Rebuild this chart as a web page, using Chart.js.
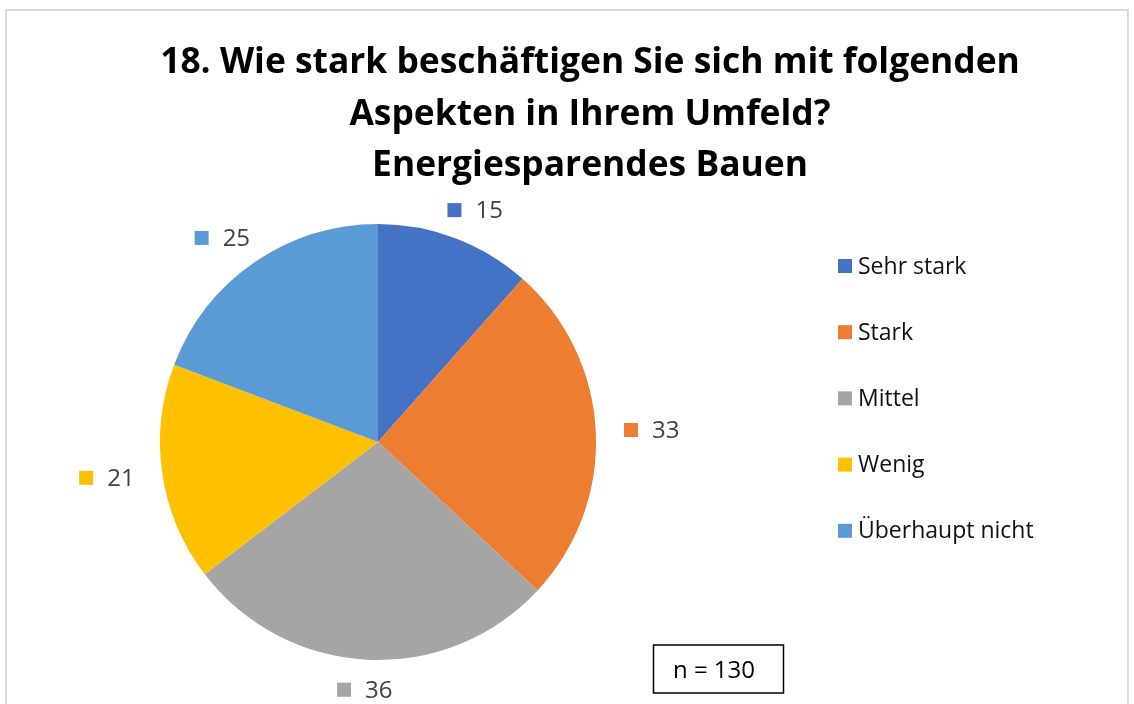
<!DOCTYPE html>
<html>
<head>
<meta charset="utf-8">
<script src="https://cdn.jsdelivr.net/npm/chart.js@4/dist/chart.umd.min.js"></script>
<style>
  body { margin: 0; background: #fff; }
  canvas { display: block; }
</style>
</head>
<body>
<canvas id="chart" width="1134" height="704"></canvas>
<script>
var kategorien = ["Sehr stark", "Stark", "Mittel", "Wenig", "Überhaupt nicht"];
var werte = [15, 33, 36, 21, 25];
var farben = ["#4472C4", "#ED7D31", "#A5A5A5", "#FFC000", "#5B9BD5"];
var titelZeilen = ["18. Wie stark beschäftigen Sie sich mit folgenden", "Aspekten in Ihrem Umfeld?", "Energiesparendes Bauen"];
var stichprobe = "n = 130";

var schrift = "'Open Sans', 'Liberation Sans', sans-serif";

// alles was nicht Torte ist, wird hier gezeichnet
var extras = {
  id: "extras",
  afterDraw: function(chart) {
    var ctx = chart.ctx;
    ctx.save();

    // Rahmen
    ctx.strokeStyle = "#d9d9d9";
    ctx.lineWidth = 2;
    ctx.strokeRect(6, 10, 1122, 720);

    // Titel, Schriftgröße an Breite der ersten Zeile angepasst
    var groesse = 40;
    ctx.font = "bold " + groesse + "px " + schrift;
    var breite = ctx.measureText(titelZeilen[0]).width;
    groesse = groesse * 860 / breite;
    ctx.font = "bold " + groesse + "px " + schrift;
    ctx.fillStyle = "#000";
    ctx.textAlign = "center";
    ctx.textBaseline = "middle";
    var ys = [63, 115, 166];
    titelZeilen.forEach(function(z, i) {
      ctx.fillText(z, 590, ys[i]);
    });

    // Legende
    ctx.font = "23px " + schrift;
    ctx.textAlign = "left";
    kategorien.forEach(function(k, i) {
      var y = 266 + i * 66.2;
      ctx.fillStyle = farben[i];
      ctx.fillRect(838, y - 7, 14, 14);
      ctx.fillStyle = "#111";
      ctx.fillText(k, 858, y + 1);
    });

    // Datenbeschriftungen, auf einer Ellipse um die Torte
    var meta = chart.getDatasetMeta(0);
    ctx.font = "24px " + schrift;
    meta.data.forEach(function(arc, i) {
      var mitte = (arc.startAngle + arc.endAngle) / 2;
      var cx = arc.x + Math.cos(mitte) * (arc.outerRadius + 56);
      var cy = arc.y + Math.sin(mitte) * (arc.outerRadius + 30);
      var txt = String(werte[i]);
      var tw = ctx.measureText(txt).width;
      var gesamt = 14 + 14 + tw;
      var x0 = cx - gesamt / 2;
      ctx.fillStyle = farben[i];
      ctx.fillRect(x0, cy - 7, 14, 14);
      ctx.fillStyle = "#404040";
      ctx.fillText(txt, x0 + 28, cy + 1);
    });

    // n-Kasten
    ctx.strokeStyle = "#000";
    ctx.lineWidth = 1.5;
    ctx.strokeRect(653.5, 645, 130, 48);
    ctx.font = "24px " + schrift;
    ctx.fillStyle = "#000";
    ctx.textAlign = "center";
    ctx.fillText(stichprobe, 714, 671);

    ctx.restore();
  }
};

var chart = new Chart(document.getElementById("chart"), {
  type: "pie",
  data: {
    labels: kategorien,
    datasets: [{
      data: werte,
      backgroundColor: farben,
      borderWidth: 0
    }]
  },
  options: {
    responsive: false,
    animation: false,
    layout: {
      padding: { left: 160, top: 224, right: 538, bottom: 44 }
    },
    plugins: {
      legend: { display: false },
      title: { display: false },
      tooltip: { enabled: false }
    }
  },
  plugins: [extras]
});
</script>
</body>
</html>
